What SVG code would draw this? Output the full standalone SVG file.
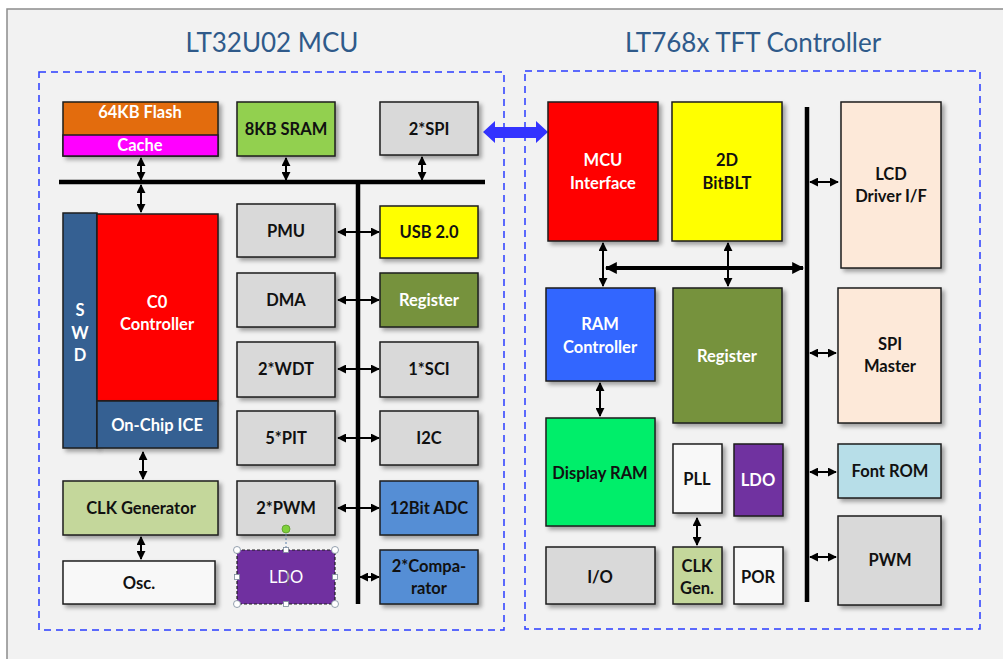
<svg xmlns="http://www.w3.org/2000/svg" width="1003" height="659" viewBox="0 0 1003 659">
<defs>
<style>
.box{stroke:#1e1e1e;stroke-width:1.5;filter:url(#sh)}
.t{font-family:Lato,"Liberation Sans",sans-serif;font-weight:bold;font-size:16.5px;text-anchor:middle;fill:#111}
.w{fill:#fff}
.title{font-family:Lato,"Liberation Sans",sans-serif;font-size:26px;text-anchor:middle;fill:#2F5A8A}
.dash{fill:none;stroke:#2a3cff;stroke-width:1.5;stroke-dasharray:7 5}
.ar{stroke:#000;stroke-width:2;fill:none;marker-start:url(#ah);marker-end:url(#ah)}
.bus{stroke:#000;stroke-width:4.5;fill:none}
</style>
<filter id="sh" x="-10%" y="-10%" width="130%" height="130%">
<feDropShadow dx="3" dy="3" stdDeviation="2" flood-color="#000" flood-opacity="0.35"/>
</filter>
<marker id="ah" viewBox="0 0 10 10" refX="9" refY="5" markerWidth="9" markerHeight="9" markerUnits="userSpaceOnUse" orient="auto-start-reverse">
<path d="M0,0 L10,5 L0,10 z" fill="#000"/>
</marker>
<marker id="ahb" viewBox="0 0 10 10" refX="9" refY="5" markerWidth="12" markerHeight="12" markerUnits="userSpaceOnUse" orient="auto-start-reverse">
<path d="M0,0 L10,5 L0,10 z" fill="#000"/>
</marker>
</defs>
<rect x="7" y="9" width="1010" height="670" fill="#F2F2F2" stroke="#8c8c8c" stroke-width="1.5"/>
<text class="title" x="272" y="52">LT32U02 MCU</text>
<text class="title" x="753" y="52">LT768x TFT Controller</text>
<rect class="dash" x="39" y="72" width="465" height="558"/>
<rect class="dash" x="525" y="71" width="455" height="558"/>

<g id="connectors">
<line class="bus" x1="59" y1="182" x2="485" y2="182"/>
<line class="bus" x1="358" y1="182" x2="358" y2="604"/>
<line class="ar" x1="141" y1="158" x2="141" y2="180"/>
<line class="ar" x1="141" y1="185" x2="141" y2="212"/>
<line class="ar" x1="286" y1="158" x2="286" y2="180"/>
<line class="ar" x1="422" y1="157" x2="422" y2="180"/>
<line class="ar" x1="338" y1="232" x2="379" y2="232"/>
<line class="ar" x1="338" y1="300" x2="379" y2="300"/>
<line class="ar" x1="338" y1="369" x2="379" y2="369"/>
<line class="ar" x1="338" y1="438" x2="379" y2="438"/>
<line class="ar" x1="338" y1="508" x2="379" y2="508"/>
<line class="ar" x1="360" y1="577" x2="379" y2="577"/>
<line class="ar" x1="143" y1="452" x2="143" y2="479"/>
<line class="ar" x1="141" y1="537" x2="141" y2="559"/>
<path d="M483,132 L495,121 L495,127 L536,127 L536,121 L548,132 L536,143 L536,138 L495,138 L495,143 Z" fill="#3333FF"/>
<line class="bus" x1="807" y1="107" x2="807" y2="602"/>
<line x1="606" y1="268" x2="803" y2="268" stroke="#000" stroke-width="4" marker-start="url(#ahb)" marker-end="url(#ahb)"/>
<line class="ar" x1="603" y1="243" x2="603" y2="286"/>
<line class="ar" x1="728" y1="243" x2="728" y2="286"/>
<line class="ar" x1="810" y1="182" x2="838" y2="182"/>
<line class="ar" x1="810" y1="353" x2="836" y2="353"/>
<line class="ar" x1="810" y1="472" x2="836" y2="472"/>
<line class="ar" x1="810" y1="557" x2="836" y2="557"/>
<line class="ar" x1="600" y1="383" x2="600" y2="416"/>
<line class="ar" x1="697" y1="518" x2="697" y2="545"/>
</g>

<g id="flash"><rect class="box" x="63" y="102" width="155" height="54" fill="#E36C09"/><rect x="63" y="135" width="155" height="21" fill="#FF00FF" stroke="#1e1e1e" stroke-width="1.5"/><text class="t w" x="140" y="118">64KB Flash</text><text class="t w" x="140" y="151">Cache</text></g>
<g id="sram"><rect class="box" x="237" y="102" width="98" height="54" fill="#92D050"/><text class="t" x="286" y="135">8KB SRAM</text></g>
<g id="spi2"><rect class="box" x="380" y="102" width="98" height="53" fill="#D9D9D9"/><text class="t" x="429" y="135">2*SPI</text></g>
<g id="swd"><rect class="box" x="63" y="213" width="34" height="235" fill="#366092"/><text class="t w" x="80" y="316">S</text><text class="t w" x="80" y="339">W</text><text class="t w" x="80" y="361">D</text></g>
<g id="c0"><rect class="box" x="97" y="214" width="121" height="187" fill="#FF0000"/><text class="t w" x="157" y="308">C0</text><text class="t w" x="157" y="330">Controller</text></g>
<g id="ice"><rect class="box" x="97" y="401" width="121" height="47" fill="#366092"/><text class="t w" x="157" y="431">On-Chip ICE</text></g>
<g id="clkgen"><rect class="box" x="63" y="481" width="155" height="54" fill="#C4D79B"/><text class="t" x="141" y="514">CLK Generator</text></g>
<g id="osc"><rect class="box" x="63" y="561" width="152" height="43" fill="#F8F8F8"/><text class="t" x="139" y="589">Osc.</text></g>
<g id="pmu"><rect class="box" x="237" y="204" width="98" height="53" fill="#D9D9D9"/><text class="t" x="286" y="237">PMU</text></g>
<g id="dma"><rect class="box" x="237" y="273" width="98" height="54" fill="#D9D9D9"/><text class="t" x="286" y="306">DMA</text></g>
<g id="wdt"><rect class="box" x="237" y="342" width="98" height="55" fill="#D9D9D9"/><text class="t" x="286" y="375">2*WDT</text></g>
<g id="pit"><rect class="box" x="237" y="411" width="98" height="54" fill="#D9D9D9"/><text class="t" x="286" y="444">5*PIT</text></g>
<g id="pwm2"><rect class="box" x="237" y="481" width="98" height="54" fill="#D9D9D9"/><text class="t" x="286" y="514">2*PWM</text></g>
<g id="ldo1"><rect x="237" y="550" width="98" height="54" fill="#7030A0" stroke="#1e1e1e" stroke-width="1.2" stroke-dasharray="3 2"/><text class="t w" x="286" y="583" style="font-weight:normal">LDO</text>
<line x1="286" y1="530" x2="286" y2="550" stroke="#5a7fa8" stroke-width="1" stroke-dasharray="2 2"/>
<line x1="288" y1="570" x2="288" y2="586" stroke="#555" stroke-width="1"/>
<circle cx="286" cy="529" r="4" fill="#7FD13B" stroke="#5a9a2a" stroke-width="0.8"/>
<g fill="#fff" stroke="#7a8a9a" stroke-width="0.8"><circle cx="237" cy="550" r="3.5"/><circle cx="335" cy="550" r="3.5"/><circle cx="237" cy="604" r="3.5"/><circle cx="335" cy="604" r="3.5"/><rect x="283.5" y="547.5" width="5" height="5"/><rect x="283.5" y="601.5" width="5" height="5"/><rect x="234.5" y="574.5" width="5" height="5"/><rect x="332.5" y="574.5" width="5" height="5"/></g></g>
<g id="usb"><rect class="box" x="380" y="206" width="98" height="52" fill="#FFFF00"/><text class="t" x="429" y="238">USB 2.0</text></g>
<g id="reg1"><rect class="box" x="380" y="273" width="98" height="54" fill="#76923C"/><text class="t w" x="429" y="306">Register</text></g>
<g id="sci"><rect class="box" x="380" y="342" width="98" height="55" fill="#D9D9D9"/><text class="t" x="429" y="375">1*SCI</text></g>
<g id="i2c"><rect class="box" x="380" y="411" width="98" height="54" fill="#D9D9D9"/><text class="t" x="429" y="444">I2C</text></g>
<g id="adc"><rect class="box" x="380" y="481" width="98" height="54" fill="#558ED5"/><text class="t" x="429" y="514">12Bit ADC</text></g>
<g id="comp"><rect class="box" x="380" y="550" width="98" height="54" fill="#558ED5"/><text class="t" x="429" y="572">2*Compa-</text><text class="t" x="429" y="594">rator</text></g>

<g id="mcuif"><rect class="box" x="548" y="102" width="110" height="139" fill="#FF0000"/><text class="t w" x="603" y="166">MCU</text><text class="t w" x="603" y="189">Interface</text></g>
<g id="bitblt"><rect class="box" x="672" y="102" width="110" height="139" fill="#FFFF00"/><text class="t" x="727" y="166">2D</text><text class="t" x="727" y="189">BitBLT</text></g>
<g id="lcd"><rect class="box" x="841" y="102" width="100" height="166" fill="#FDE9D9"/><text class="t" x="891" y="180">LCD</text><text class="t" x="891" y="202">Driver I/F</text></g>
<g id="ramctl"><rect class="box" x="546" y="288" width="109" height="93" fill="#3366FF"/><text class="t w" x="600" y="330">RAM</text><text class="t w" x="600" y="353">Controller</text></g>
<g id="reg2"><rect class="box" x="673" y="288" width="109" height="135" fill="#76923C"/><text class="t w" x="727" y="362">Register</text></g>
<g id="spim"><rect class="box" x="838" y="288" width="103" height="135" fill="#FDE9D9"/><text class="t" x="890" y="350">SPI</text><text class="t" x="890" y="372">Master</text></g>
<g id="dram"><rect class="box" x="546" y="418" width="109" height="108" fill="#00EE6A"/><text class="t" x="600" y="479">Display RAM</text></g>
<g id="pll"><rect class="box" x="673" y="444" width="49" height="69" fill="#F8F8F8"/><text class="t" x="697" y="485">PLL</text></g>
<g id="ldo2"><rect class="box" x="734" y="444" width="49" height="72" fill="#7030A0"/><text class="t w" x="758" y="486">LDO</text></g>
<g id="clkg"><rect class="box" x="673" y="547" width="49" height="57" fill="#C4D79B"/><text class="t" x="697" y="572">CLK</text><text class="t" x="697" y="594">Gen.</text></g>
<g id="por"><rect class="box" x="734" y="547" width="49" height="57" fill="#F8F8F8"/><text class="t" x="758" y="583">POR</text></g>
<g id="io"><rect class="box" x="546" y="547" width="109" height="57" fill="#D9D9D9"/><text class="t" x="600" y="583">I/O</text></g>
<g id="fontrom"><rect class="box" x="838" y="444" width="103" height="54" fill="#B7DEE8"/><text class="t" x="890" y="477">Font ROM</text></g>
<g id="pwm"><rect class="box" x="838" y="516" width="103" height="89" fill="#D9D9D9"/><text class="t" x="890" y="566">PWM</text></g>
</svg>
